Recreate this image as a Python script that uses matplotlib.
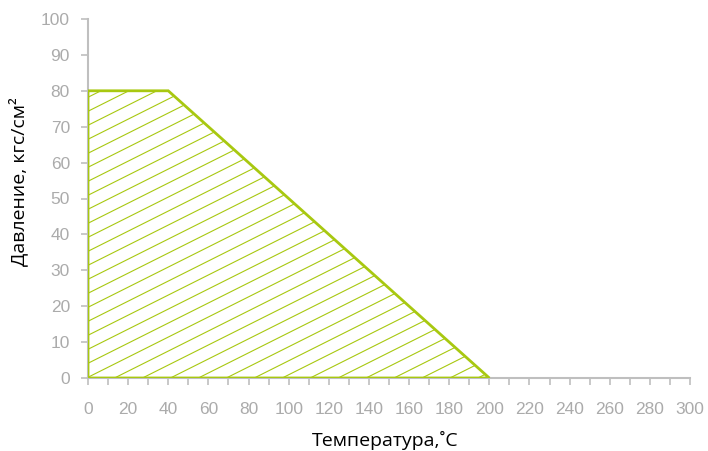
import matplotlib
matplotlib.use("Agg")
import matplotlib.pyplot as plt
import numpy as np
from matplotlib.patches import Polygon

plt.rcParams['font.family'] = ['Liberation Sans', 'DejaVu Sans']

temps = [0, 0, 40, 200]
press = [0, 80, 80, 0]
xticks = list(range(0, 301, 20))
yticks = list(range(0, 101, 10))

green = '#A8C810'
gray = '#BFBFBF'
tickc = '#ABABAB'

W, H = 708, 451
fig = plt.figure(figsize=(W/100, H/100), dpi=100)
ax = fig.add_axes([88/W, 1-378/H, 602/W, 359/H])
ax.set_xlim(0, 300)
ax.set_ylim(0, 100)

poly = Polygon(np.column_stack([temps, press]), closed=True, facecolor='none',
               edgecolor=green, linewidth=2, zorder=3, joinstyle='miter')
ax.add_patch(poly)

# shallow hatch lines clipped to polygon
slope = 0.28
for c in np.arange(-70, 85, 3.9):
    xs = np.array([0, 200])
    ln, = ax.plot(xs, slope*xs + c, color=green, lw=0.8, zorder=2)
    ln.set_clip_path(poly)

for s in ['top', 'right']:
    ax.spines[s].set_visible(False)
for s in ['left', 'bottom']:
    ax.spines[s].set_color(gray)
    ax.spines[s].set_linewidth(1.5)

ax.set_xticks(xticks)
ax.set_xticks(range(0, 301, 10), minor=True)
ax.set_yticks(yticks)
ax.tick_params(axis='both', which='both', direction='out', color=gray, width=1.2,
               labelcolor=tickc, labelsize=12.5, length=5)
ax.tick_params(axis='x', which='both', pad=12)
ax.tick_params(axis='y', pad=8)

fig.text(385/W, 1-440/H, 'Температура,˚С', fontsize=14, family=['Open Sans', 'DejaVu Sans'],
         ha='center', va='center', color='black')
fig.text(18/W, 1-182/H, 'Давление, кгс/см²', fontsize=14, family=['Open Sans', 'DejaVu Sans'],
         ha='center', va='center', rotation=90, color='black')

fig.savefig('out.png', dpi=100)
